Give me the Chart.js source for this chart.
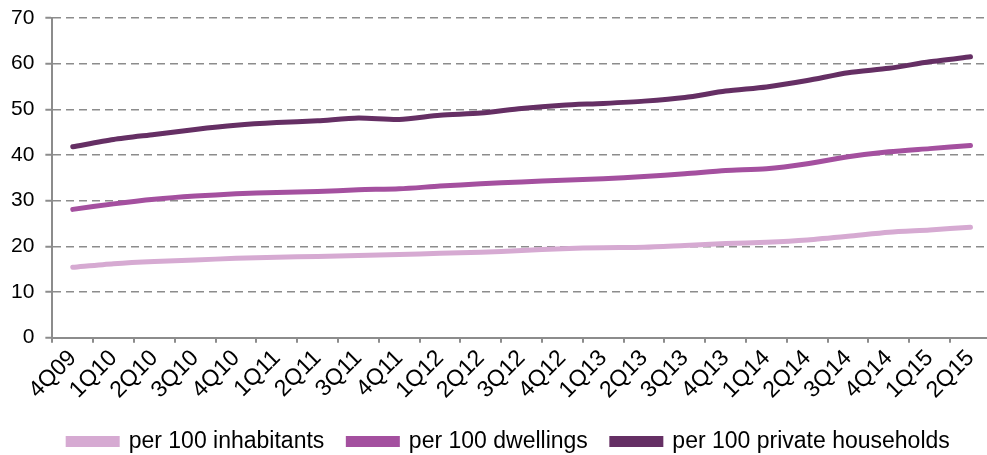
<!DOCTYPE html>
<html>
<head>
<meta charset="utf-8">
<script src="https://cdn.jsdelivr.net/npm/chart.js@4"></script>
<style>
  html, body { margin: 0; padding: 0; background: #fff; overflow: hidden; }
  #wrap { width: 987px; height: 455px; overflow: hidden; }
</style>
</head>
<body>
<div id="wrap"><canvas id="chart" width="992" height="455"></canvas></div>
<script>
// quarters on the x axis
const quarters = ['4Q09', '1Q10', '2Q10', '3Q10', '4Q10', '1Q11', '2Q11', '3Q11', '4Q11',
  '1Q12', '2Q12', '3Q12', '4Q12', '1Q13', '2Q13', '3Q13', '4Q13',
  '1Q14', '2Q14', '3Q14', '4Q14', '1Q15', '2Q15'];

const perInhabitants = [15.4, 16.2, 16.7, 17.0, 17.4, 17.6, 17.8, 18.0, 18.2, 18.5, 18.7, 19.1,
  19.5, 19.7, 19.8, 20.2, 20.6, 20.9, 21.4, 22.2, 23.1, 23.6, 24.2];
const perDwellings = [28.1, 29.3, 30.3, 31.0, 31.5, 31.8, 32.0, 32.4, 32.6, 33.2, 33.7, 34.1,
  34.5, 34.8, 35.3, 35.9, 36.6, 37.0, 38.1, 39.6, 40.7, 41.4, 42.1];
const perHouseholds = [41.8, 43.4, 44.5, 45.6, 46.5, 47.1, 47.5, 48.1, 47.8, 48.7, 49.2, 50.2,
  50.9, 51.3, 51.8, 52.6, 54.0, 54.9, 56.3, 58.0, 59.0, 60.4, 61.5];

const seriesNames = ['per 100 inhabitants', 'per 100 dwellings', 'per 100 private households'];
const seriesColors = ['#d6aad2', '#a4509f', '#652f64'];

const yTicks = [0, 10, 20, 30, 40, 50, 60, 70];

const FONT = "'Liberation Sans', Arial, sans-serif";
const GREY = '#8c8c8c';

function makeSet(i, values) {
  return {
    label: seriesNames[i],
    data: values,
    borderColor: seriesColors[i],
    backgroundColor: seriesColors[i],
    borderWidth: 5,
    pointRadius: 0,
    tension: 0.25,
    borderCapStyle: 'round',
    fill: false
  };
}

// the legend in the original sits a little right of centre
const legendShift = {
  id: 'legendShift',
  afterLayout(chart) {
    const lg = chart.legend;
    if (lg && !lg._shifted) {
      lg.left += 13;
      lg.right += 13;
      lg._shifted = true;
    }
  }
};

const ctx = document.getElementById('chart');
new Chart(ctx, {
  type: 'line',
  data: {
    labels: quarters,
    datasets: [
      makeSet(0, perInhabitants),
      makeSet(1, perDwellings),
      makeSet(2, perHouseholds)
    ]
  },
  plugins: [legendShift],
  options: {
    responsive: false,
    animation: false,
    layout: { padding: { top: 10, left: 0, right: 0, bottom: -8 } },
    plugins: {
      tooltip: { enabled: false },
      legend: {
        position: 'bottom',
        labels: {
          font: { family: FONT, size: 23 },
          color: '#000',
          boxWidth: 49,
          boxHeight: 6,
          padding: 24
        }
      }
    },
    scales: {
      x: {
        offset: true,
        grid: {
          display: true,
          drawOnChartArea: false,
          offset: true,
          color: GREY,
          lineWidth: 2,
          tickLength: 5
        },
        border: { color: GREY, width: 2 },
        ticks: {
          font: { family: FONT, size: 23 },
          color: '#000',
          maxRotation: 45,
          minRotation: 45,
          autoSkip: false,
          padding: 2
        }
      },
      y: {
        min: 0,
        max: 70,
        afterBuildTicks: (axis) => { axis.ticks = yTicks.map(v => ({ value: v })); },
        afterFit: (axis) => { axis.paddingTop = 18; },
        grid: {
          color: GREY,
          lineWidth: 1.5,
          tickLength: 7,
          tickColor: GREY,
          tickWidth: 2,
          tickBorderDash: []
        },
        border: { color: GREY, width: 2, dash: [8, 5] },
        ticks: {
          font: { family: FONT, size: 21 },
          color: '#000',
          padding: 11
        }
      }
    }
  }
});
</script>
</body>
</html>
